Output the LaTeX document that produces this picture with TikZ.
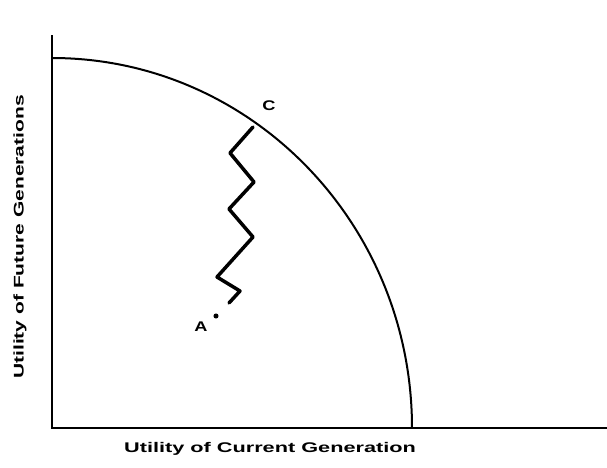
\documentclass[tikz,border=0pt]{standalone}
\usepackage{fontspec}
\usepackage{graphicx}
\setmainfont{Liberation Sans}
\begin{document}
\begin{tikzpicture}[x=1pt,y=-1pt,
  axis/.style={line width=2pt},
  frontier/.style={line width=2pt},
  zig/.style={line width=3.5pt,line join=round,line cap=round},
  lbl/.style={font=\bfseries\fontsize{14}{14}\selectfont,inner sep=0pt}]
\useasboundingbox (0,0) rectangle (607,467);
\coordinate (O) at (52,428);
\coordinate (ytop) at (52,35);
\coordinate (xend) at (607,428);
\draw[axis] (ytop) -- (O) -- (xend);
\draw[frontier] (52,58) arc[start angle=90,end angle=0,x radius=360,y radius=-370];
\coordinate (z0) at (253,127);
\draw[zig] (z0) -- (230,153) -- (254,182) -- (229,209) -- (253,237) -- (217,277) -- (240,291) -- (229,303);
\node[circle,fill,inner sep=1.8pt] (Adot) at (216,316) {};
\node[lbl] (A) at (201,327) {\scalebox{1.3}[1]{A}};
\node[lbl] (C) at (269,106) {\scalebox{1.3}[1]{C}};
\node[lbl,rotate=90] (ylab) at (20,237) {\scalebox{1.5}[1]{Utility of Future Generations}};
\node[lbl] (xlab) at (270,449) {\scalebox{1.55}[1]{Utility of Current Generation}};
\end{tikzpicture}
\end{document}
